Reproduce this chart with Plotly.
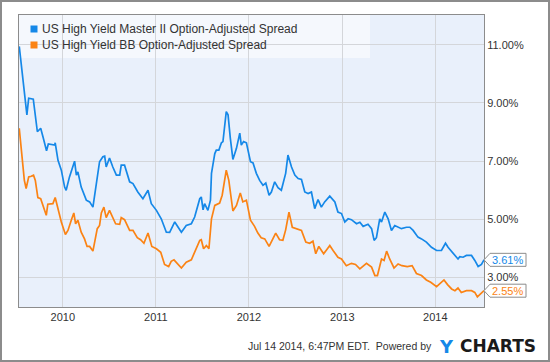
import plotly.graph_objects as go

# ---------------- data ----------------
hy_dates = [
    "2009-07-14", "2009-08-13", "2009-08-20", "2009-09-07", "2009-09-23", "2009-10-06", "2009-10-15",
    "2009-10-29", "2009-11-05", "2009-11-30", "2009-12-02", "2009-12-13", "2009-12-26", "2010-01-08",
    "2010-01-14", "2010-01-27", "2010-02-16", "2010-02-23", "2010-03-01", "2010-03-14", "2010-04-03",
    "2010-04-16", "2010-04-29", "2010-05-12", "2010-05-25", "2010-06-07", "2010-06-14", "2010-06-20",
    "2010-07-03", "2010-07-16", "2010-07-30", "2010-08-12", "2010-08-18", "2010-08-31", "2010-09-20",
    "2010-10-03", "2010-10-22", "2010-11-11", "2010-12-01", "2010-12-14", "2011-01-03", "2011-01-22",
    "2011-02-11", "2011-02-24", "2011-03-09", "2011-03-16", "2011-04-11", "2011-04-30", "2011-05-20",
    "2011-06-02", "2011-06-22", "2011-06-28", "2011-07-05", "2011-07-11", "2011-07-24", "2011-08-03",
    "2011-08-07", "2011-08-20", "2011-08-26", "2011-09-05", "2011-09-15", "2011-09-21", "2011-10-04",
    "2011-10-11", "2011-10-20", "2011-10-30", "2011-11-13", "2011-11-26", "2011-12-02", "2011-12-11",
    "2011-12-22", "2012-01-07", "2012-01-17", "2012-01-30", "2012-02-12", "2012-02-25", "2012-03-07",
    "2012-03-20", "2012-03-29", "2012-04-11", "2012-04-24", "2012-05-07", "2012-05-24", "2012-06-02",
    "2012-06-16", "2012-06-29", "2012-07-12", "2012-07-25", "2012-08-07", "2012-08-20", "2012-09-02",
    "2012-09-15", "2012-09-28", "2012-10-11", "2012-10-24", "2012-11-13", "2012-12-03", "2012-12-15",
    "2012-12-29", "2013-01-11", "2013-01-24", "2013-02-06", "2013-02-26", "2013-03-11", "2013-03-24",
    "2013-04-12", "2013-04-26", "2013-05-06", "2013-05-15", "2013-05-28", "2013-06-04", "2013-06-17",
    "2013-06-30", "2013-07-13", "2013-07-26", "2013-08-08", "2013-08-21", "2013-09-10", "2013-09-23",
    "2013-10-06", "2013-10-25", "2013-11-08", "2013-11-27", "2013-12-17", "2014-01-06", "2014-01-25",
    "2014-02-10", "2014-02-20", "2014-03-08", "2014-03-19", "2014-03-31", "2014-04-07", "2014-04-20",
    "2014-05-03", "2014-05-23", "2014-06-05", "2014-06-18", "2014-07-01", "2014-07-11",
]
hy_values = [
    10.94, 8.59, 9.16, 9.13, 8.01, 8.13, 7.84,
    7.36, 7.59, 7.55, 7.63, 7.03, 6.69, 6.11,
    6.00, 6.46, 7.00, 6.52, 6.63, 6.11, 5.66,
    5.60, 5.42, 6.23, 6.98, 7.15, 7.17, 6.80,
    7.11, 6.80, 6.52, 6.52, 6.86, 6.86, 6.29,
    6.23, 5.94, 5.71, 6.00, 5.54, 5.31, 5.02,
    4.56, 4.55, 4.79, 4.91, 4.56, 4.79, 4.85,
    5.08, 5.71, 5.77, 5.33, 5.54, 5.31, 5.66,
    6.58, 7.26, 7.38, 7.38, 7.63, 7.67, 8.70,
    8.59, 7.78, 7.06, 7.44, 7.96, 7.55, 7.67,
    7.63, 6.98, 6.94, 6.58, 6.34, 6.17, 6.25,
    5.83, 5.94, 6.29, 6.09, 6.00, 6.58, 7.21,
    6.80, 6.52, 6.40, 6.37, 5.94, 5.89, 5.94,
    5.37, 5.68, 5.42, 5.60, 5.80, 5.60, 5.25,
    5.20, 4.91, 5.02, 4.99, 4.85, 4.90, 4.76,
    4.83, 4.68, 4.28, 4.37, 5.02, 4.91, 5.25,
    5.02, 4.62, 4.79, 4.73, 4.68, 4.73, 4.73,
    4.62, 4.39, 4.33, 4.22, 4.04, 3.93, 3.93,
    4.18, 4.04, 3.87, 3.76, 3.64, 3.72, 3.70,
    3.76, 3.76, 3.59, 3.38, 3.45, 3.61,
]

bb_dates = [
    "2009-07-14", "2009-07-28", "2009-08-03", "2009-08-10", "2009-08-20", "2009-08-30", "2009-09-08",
    "2009-09-15", "2009-09-25", "2009-10-06", "2009-10-19", "2009-10-28", "2009-11-03", "2009-11-23",
    "2009-12-02", "2009-12-13", "2009-12-26", "2010-01-11", "2010-01-21", "2010-02-03", "2010-02-13",
    "2010-02-20", "2010-03-01", "2010-03-14", "2010-03-27", "2010-04-06", "2010-04-16", "2010-04-29",
    "2010-05-08", "2010-05-16", "2010-05-25", "2010-06-01", "2010-06-11", "2010-06-20", "2010-07-03",
    "2010-07-16", "2010-07-27", "2010-08-12", "2010-08-18", "2010-08-31", "2010-09-20", "2010-10-03",
    "2010-10-20", "2010-11-02", "2010-11-15", "2010-12-01", "2010-12-16", "2011-01-03", "2011-01-20",
    "2011-02-04", "2011-02-20", "2011-03-02", "2011-03-13", "2011-04-11", "2011-04-30", "2011-05-20",
    "2011-06-02", "2011-06-22", "2011-06-28", "2011-07-07", "2011-07-18", "2011-07-28", "2011-08-07",
    "2011-08-20", "2011-09-08", "2011-09-18", "2011-10-04", "2011-10-14", "2011-10-30", "2011-11-13",
    "2011-11-28", "2011-12-08", "2011-12-22", "2012-01-07", "2012-01-23", "2012-02-05", "2012-02-18",
    "2012-03-03", "2012-03-20", "2012-04-02", "2012-04-15", "2012-04-30", "2012-05-13", "2012-05-24",
    "2012-06-06", "2012-06-19", "2012-07-05", "2012-07-25", "2012-08-11", "2012-08-26", "2012-09-08",
    "2012-09-19", "2012-10-01", "2012-10-20", "2012-11-06", "2012-11-13", "2012-11-26", "2012-12-15",
    "2012-12-29", "2013-01-17", "2013-02-06", "2013-02-22", "2013-03-11", "2013-04-06", "2013-04-26",
    "2013-05-09", "2013-05-19", "2013-06-04", "2013-06-14", "2013-06-24", "2013-07-06", "2013-07-23",
    "2013-08-08", "2013-08-23", "2013-09-13", "2013-10-02", "2013-10-19", "2013-11-08", "2013-11-27",
    "2013-12-14", "2014-01-06", "2014-01-18", "2014-02-04", "2014-02-18", "2014-03-06", "2014-03-19",
    "2014-03-31", "2014-04-13", "2014-05-03", "2014-05-23", "2014-06-05", "2014-06-15", "2014-06-28",
    "2014-07-11",
]
bb_values = [
    8.13, 7.03, 6.34, 6.06, 6.46, 6.48, 6.52,
    6.34, 5.75, 5.71, 5.37, 5.14, 5.52, 5.54,
    5.75, 5.37, 4.91, 4.48, 4.62, 4.97, 5.22,
    4.85, 4.97, 4.56, 4.33, 4.07, 4.07, 3.91,
    4.28, 4.68, 4.79, 5.22, 5.42, 5.06, 5.31,
    5.06, 4.85, 4.83, 5.06, 4.99, 4.62, 4.62,
    4.37, 4.30, 4.18, 4.53, 4.07, 3.99, 3.87,
    3.45, 3.38, 3.56, 3.61, 3.33, 3.53, 3.61,
    3.87, 4.28, 4.30, 3.99, 4.10, 3.99, 5.02,
    5.48, 5.56, 5.83, 6.69, 6.34, 5.29, 5.48,
    5.91, 5.60, 5.66, 4.97, 4.76, 4.53, 4.37,
    4.33, 4.07, 4.28, 4.53, 4.30, 4.28, 4.64,
    5.25, 4.73, 4.68, 4.62, 4.22, 4.18, 4.25,
    3.82, 4.07, 3.82, 4.02, 4.10, 3.93, 3.70,
    3.64, 3.41, 3.49, 3.45, 3.30, 3.49, 3.36,
    3.07, 3.07, 3.64, 3.59, 3.91, 3.64, 3.33,
    3.47, 3.41, 3.38, 3.41, 3.14, 3.07, 2.92,
    2.84, 2.69, 2.78, 2.92, 2.76, 2.61, 2.55,
    2.64, 2.49, 2.55, 2.55, 2.49, 2.34, 2.44,
    2.55,
]

series_names = [
    "US High Yield Master II Option-Adjusted Spread",
    "US High Yield BB Option-Adjusted Spread",
]
x_tick_dates = ["2010-01-01", "2011-01-01", "2012-01-01", "2013-01-01", "2014-01-01"]
x_tick_labels = ["2010", "2011", "2012", "2013", "2014"]
y_tick_values = [3, 5, 7, 9, 11]
y_tick_labels = ["3.00%", "5.00%", "7.00%", "9.00%", "11.00%"]
footer_text = "Jul 14 2014, 6:47PM EDT.  Powered by"

# ---------------- styling ----------------
BLUE = "#1588e8"
ORANGE = "#fb8314"
FONT = "Liberation Sans, Arial, sans-serif"
TEXT = "#333333"
GRID = "#d4d6da"
FRAME = "#8c8c8c"

fig = go.Figure()
for dates, vals, color, name in [
    (hy_dates, hy_values, BLUE, series_names[0]),
    (bb_dates, bb_values, ORANGE, series_names[1]),
]:
    fig.add_trace(go.Scatter(
        x=dates, y=vals, mode="lines", name=name,
        line=dict(color=color, width=1.7),
        showlegend=False, hoverinfo="skip",
    ))

shapes = []
annotations = []

# outer frame of the whole picture
shapes.append(dict(
    type="rect", xref="paper", yref="paper", xsizemode="pixel", ysizemode="pixel",
    xanchor=0, yanchor=0, x0=-18, x1=530, y0=-54, y1=306,
    line=dict(color=FRAME, width=2), fillcolor="rgba(0,0,0,0)", layer="above",
))

# legend box
shapes.append(dict(
    type="rect", xref="paper", yref="paper", xsizemode="pixel", ysizemode="pixel",
    xanchor=0, yanchor=1, x0=0, x1=351, y0=0, y1=-43,
    line=dict(width=0), fillcolor="rgba(255,255,255,0.55)", layer="between",
))
for i, (name, color) in enumerate(zip(series_names, [BLUE, ORANGE])):
    cy = -14 - 16 * i
    shapes.append(dict(
        type="rect", xref="paper", yref="paper", xsizemode="pixel", ysizemode="pixel",
        xanchor=0, yanchor=1, x0=11.5, x1=18.5, y0=cy - 3.5, y1=cy + 3.5,
        line=dict(width=0), fillcolor=color, layer="above",
    ))
    annotations.append(dict(
        xref="paper", yref="paper", x=0, y=1, xanchor="left", yanchor="middle",
        xshift=21, yshift=cy, text=name, showarrow=False,
        font=dict(family=FONT, size=12, color=TEXT),
    ))

# end-value flags
for vals, color in [(hy_values, BLUE), (bb_values, ORANGE)]:
    last = vals[-1]
    shapes.append(dict(
        type="path", xref="paper", yref="y", xsizemode="pixel", ysizemode="pixel",
        xanchor=1, yanchor=last,
        path="M0,0 L6,6.5 L42,6.5 L42,-6.5 L6,-6.5 Z",
        line=dict(color=FRAME, width=1), fillcolor="white", layer="above",
    ))
    annotations.append(dict(
        xref="paper", yref="y", x=1, y=last, xanchor="left", yanchor="middle",
        xshift=6, text=f"{last:.2f}%", showarrow=False,
        font=dict(family=FONT, size=11, color=color),
    ))

# footer
annotations.append(dict(
    xref="paper", yref="paper", x=1, y=0, xanchor="right", yanchor="middle",
    xshift=-50, yshift=-39, text=footer_text, showarrow=False,
    font=dict(family=FONT, size=10.5, color=TEXT),
))
annotations.append(dict(
    xref="paper", yref="paper", x=1, y=0, xanchor="left", yanchor="middle",
    xshift=-47, yshift=-39, text="<b>Y</b>", showarrow=False,
    font=dict(family="DejaVu Sans", size=18, color=BLUE),
))
annotations.append(dict(
    xref="paper", yref="paper", x=1, y=0, xanchor="left", yanchor="middle",
    xshift=-26, yshift=-39, text="<b>CHARTS</b>", showarrow=False,
    font=dict(family="DejaVu Sans", size=17, color="#1a1a1a"),
))

fig.update_layout(
    width=550, height=362,
    margin=dict(l=19, r=66, t=15, b=55, pad=0),
    paper_bgcolor="white", plot_bgcolor="#e9f0fb",
    font=dict(family=FONT, size=11, color=TEXT),
    showlegend=False,
    shapes=shapes, annotations=annotations,
    xaxis=dict(
        type="date", range=["2009-07-13", "2014-07-11"],
        tickvals=x_tick_dates, ticktext=x_tick_labels,
        showgrid=True, gridcolor=GRID, gridwidth=1,
        showline=True, mirror=True, linecolor=FRAME, linewidth=1,
        ticks="", zeroline=False, fixedrange=True,
        tickfont=dict(family=FONT, size=11, color=TEXT),
    ),
    yaxis=dict(
        side="right", range=[1.99, 12.02],
        tickvals=y_tick_values, ticktext=y_tick_labels,
        showgrid=True, gridcolor=GRID, gridwidth=1,
        showline=True, mirror=True, linecolor=FRAME, linewidth=1,
        ticks="", zeroline=False, fixedrange=True,
        tickfont=dict(family=FONT, size=11, color=TEXT),
    ),
)

fig.write_html(
    "out.html",
    config={"displayModeBar": False},
    post_script="document.body.style.margin='0';document.body.style.padding='0';"
                "document.documentElement.style.overflow='hidden';",
)
